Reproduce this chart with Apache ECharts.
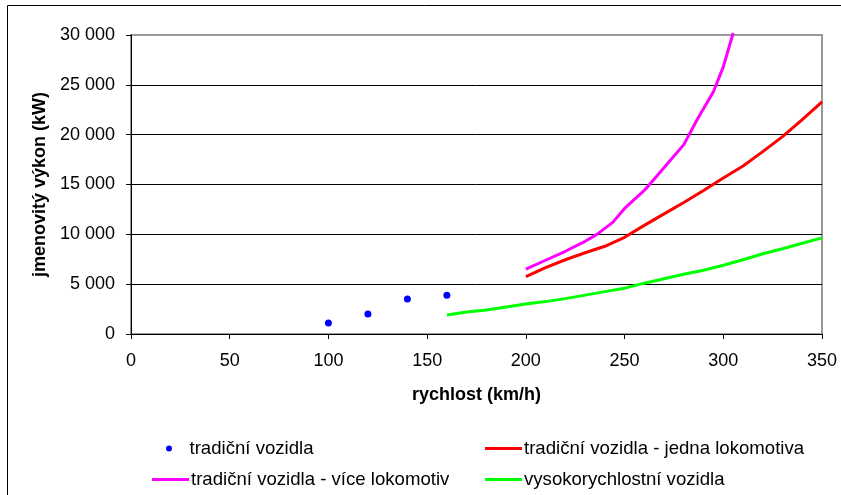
<!DOCTYPE html>
<html>
<head>
<meta charset="utf-8">
<script src="https://cdn.jsdelivr.net/npm/echarts@6/dist/echarts.min.js"></script>
<style>
	html, body { margin: 0; padding: 0; background: #fff; }
	#chart { width: 841px; height: 495px; }
</style>
</head>
<body>
<div id="chart"></div>
<script>
// rychlost (km/h) / jmenovitý výkon (kW)
var tradSpeed = [100, 120, 140, 160];
var tradPower = [1100, 2000, 3500, 3900];

var jednaSpeed = [200, 210, 220, 230, 240, 250, 260, 270, 280, 290, 300, 310, 320, 330, 340, 350];
var jednaPower = [5750, 6650, 7450, 8150, 8800, 9700, 10900, 12050, 13200, 14400, 15650, 16850, 18300, 19800, 21500, 23300];

var viceSpeed = [200, 210, 220, 230, 236, 244, 250, 260, 267, 280, 287, 295, 300, 305];
var vicePower = [6500, 7400, 8300, 9300, 10000, 11200, 12600, 14400, 16000, 19000, 21600, 24300, 26800, 30200];

var vysokoSpeed = [160, 170, 180, 190, 200, 210, 220, 230, 240, 250, 260, 270, 280, 290, 300, 310, 320, 330, 340, 350];
var vysokoPower = [1900, 2200, 2400, 2700, 3000, 3250, 3550, 3900, 4250, 4600, 5100, 5550, 6000, 6400, 6900, 7450, 8050, 8550, 9100, 9650];

var xTicks = [0, 50, 100, 150, 200, 250, 300, 350];
var yTicks = [0, 5000, 10000, 15000, 20000, 25000, 30000];

function pairs(xs, ys) {
	return xs.map(function (x, i) {
		return [x, ys[i]];
	});
}

function fmtThousands(v) {
	return String(v).replace(/\B(?=(\d{3})+(?!\d))/g, ' ');
}

var FONT = '"Liberation Sans", Arial, sans-serif';

// one legend per item, laid out like the original two-column key
function legendItem(name, icon, left, top, h) {
	return {
		left: left,
		top: top,
		itemWidth: 37,
		itemHeight: h,
		icon: icon,
		selectedMode: false,
		textStyle: { fontSize: 18.6, color: '#000', fontFamily: FONT, padding: [0, 0, 0, -3] },
		data: [name]
	};
}

var chart = echarts.init(document.getElementById('chart'));

var option = {
	animation: false,
	backgroundColor: '#fff',
	textStyle: { fontFamily: FONT },
	graphic: [
		{
			type: 'rect',
			shape: { x: 7.5, y: 5.5, width: 900, height: 600 },
			style: { fill: null, stroke: '#000', lineWidth: 1 },
			silent: true
		}
	],
	grid: {
		left: 131,
		right: 19,
		top: 35,
		bottom: 161,
		show: true,
		borderColor: '#999',
		borderWidth: 2,
		backgroundColor: 'transparent'
	},
	legend: [
		legendItem('tradiční vozidla', 'circle', 161, 434, 6),
		legendItem('tradiční vozidla - více lokomotiv', 'rect', 147, 465, 3),
		legendItem('tradiční vozidla - jedna lokomotiva', 'rect', 480, 434, 3),
		legendItem('vysokorychlostní vozidla', 'rect', 480, 465, 3)
	],
	xAxis: {
		type: 'value',
		min: xTicks[0],
		max: xTicks[xTicks.length - 1],
		interval: 50,
		name: 'rychlost (km/h)',
		nameLocation: 'middle',
		nameGap: 52,
		nameTextStyle: { fontSize: 18, fontWeight: 'bold', color: '#000', fontFamily: FONT },
		axisLine: { lineStyle: { color: '#000', width: 1 } },
		axisTick: { show: true, length: 5, lineStyle: { color: '#000' } },
		axisLabel: { fontSize: 18, color: '#000', margin: 18, fontFamily: FONT },
		splitLine: { show: false }
	},
	yAxis: {
		type: 'value',
		min: yTicks[0],
		max: yTicks[yTicks.length - 1],
		interval: 5000,
		name: 'jmenovitý výkon (kW)',
		nameLocation: 'middle',
		nameGap: 82,
		nameTextStyle: { fontSize: 18, fontWeight: 'bold', color: '#000', fontFamily: FONT },
		axisLine: { show: true, lineStyle: { color: '#000', width: 1 } },
		axisTick: { show: true, length: 5, lineStyle: { color: '#000' } },
		axisLabel: {
			fontSize: 18,
			color: '#000',
			margin: 16,
			fontFamily: FONT,
			formatter: function (v) { return fmtThousands(v); }
		},
		splitLine: {
			show: true,
			lineStyle: { color: ['#000', '#000', '#000', '#000', '#000', '#000', '#999'], width: 1 }
		}
	},
	series: [
		{
			name: 'tradiční vozidla',
			type: 'scatter',
			symbol: 'circle',
			symbolSize: 7,
			itemStyle: { color: '#0000ff', opacity: 1 },
			data: pairs(tradSpeed, tradPower)
		},
		{
			name: 'tradiční vozidla - jedna lokomotiva',
			type: 'line',
			symbol: 'none',
			showSymbol: false,
			color: '#ff0000',
			itemStyle: { color: '#ff0000' },
			lineStyle: { color: '#ff0000', width: 3 },
			data: pairs(jednaSpeed, jednaPower)
		},
		{
			name: 'tradiční vozidla - více lokomotiv',
			type: 'line',
			symbol: 'none',
			showSymbol: false,
			clip: false,
			color: '#ff00ff',
			itemStyle: { color: '#ff00ff' },
			lineStyle: { color: '#ff00ff', width: 3 },
			data: pairs(viceSpeed, vicePower)
		},
		{
			name: 'vysokorychlostní vozidla',
			type: 'line',
			symbol: 'none',
			showSymbol: false,
			color: '#00ff00',
			itemStyle: { color: '#00ff00' },
			lineStyle: { color: '#00ff00', width: 3 },
			data: pairs(vysokoSpeed, vysokoPower)
		}
	]
};

chart.setOption(option);
</script>
</body>
</html>
